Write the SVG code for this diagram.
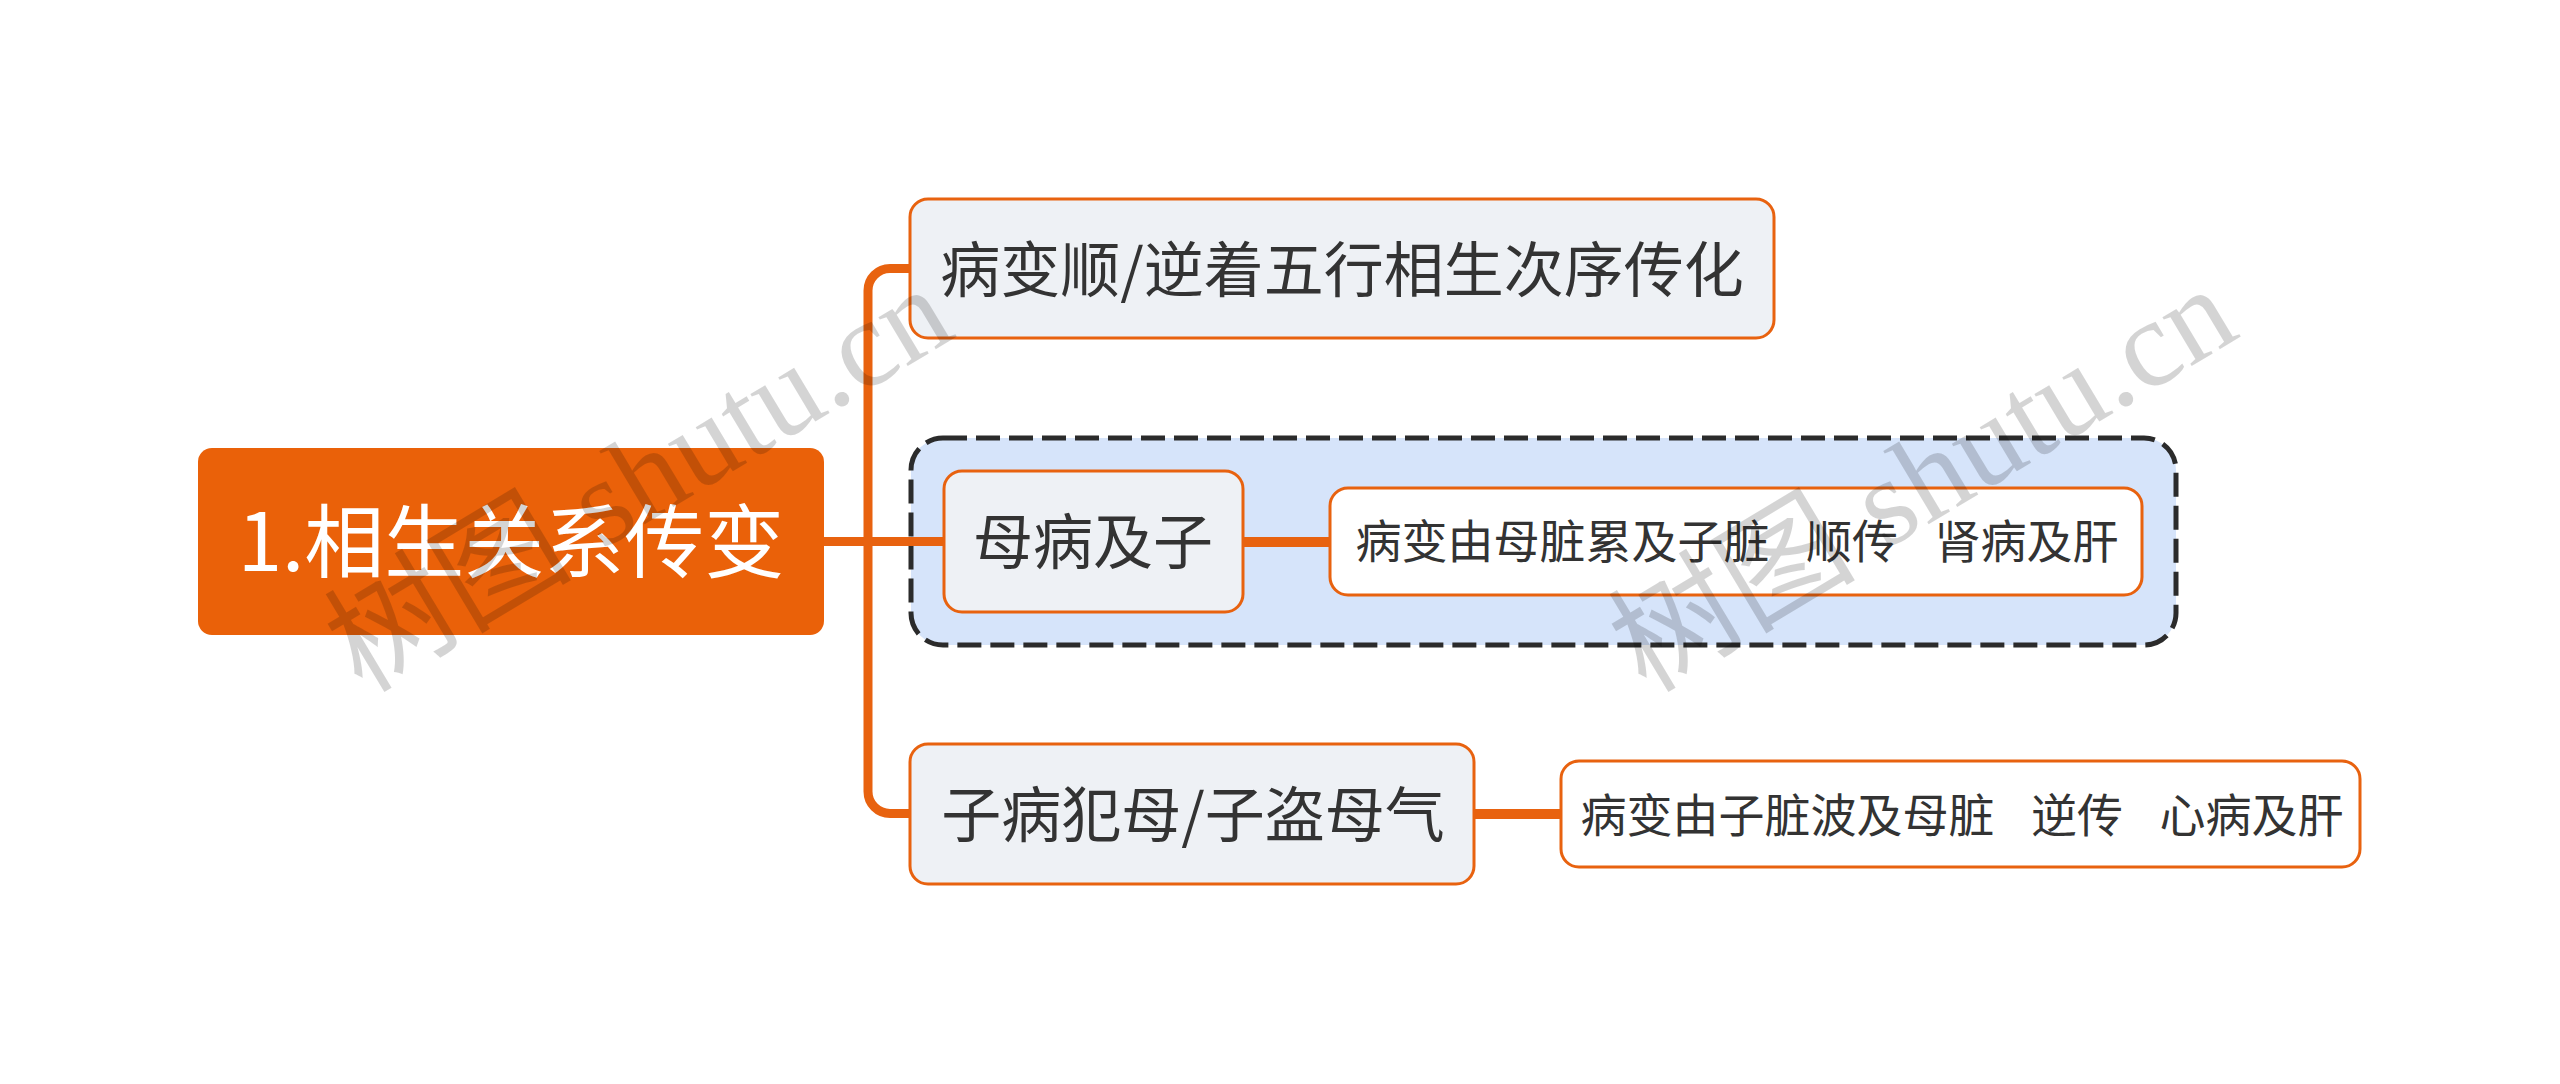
<svg xmlns="http://www.w3.org/2000/svg" width="2560" height="1084" viewBox="0 0 2560 1084">
<style>
.node{fill:#EEF1F5;stroke:#E8620F;stroke-width:3}
.leaf{fill:#FFFFFF;stroke:#E8620F;stroke-width:3}
.t{font-family:"Noto Sans CJK SC","Noto Sans",sans-serif;fill:#333333;text-anchor:middle;white-space:pre}
.conn{fill:none;stroke:#E8620F;stroke-linecap:butt}
.wm{font-family:"Liberation Serif","Noto Sans CJK SC",serif;font-size:124px;fill:#000;fill-opacity:0.17;white-space:pre}
</style>
<rect width="2560" height="1084" fill="#FFFFFF"/>
<g id="summary-box">
<rect x="911" y="438" width="1265" height="207" rx="32" fill="#D6E4FA" stroke="#2B2B2B" stroke-width="5" stroke-dasharray="24 9"/>
</g>
<g id="connectors">
<path class="conn" stroke-width="9" d="M 910 268.5 H 890 A 22 22 0 0 0 868 290.5 V 791.5 A 22 22 0 0 0 890 813.5 H 910"/>
<path class="conn" stroke-width="9" d="M 824 541.5 H 944"/>
<path class="conn" stroke-width="10" d="M 1243 542 H 1330"/>
<path class="conn" stroke-width="10" d="M 1474 814 H 1561"/>
</g>
<g id="root">
<rect x="198" y="448" width="626" height="187" rx="14" fill="#EA6109"/>
<text class="t" x="511" y="571" font-size="80" style="fill:#FFFFFF">1.相生关系传变</text>
</g>
<g id="n1">
<rect class="node" x="910" y="199" width="864" height="139" rx="18"/>
<text class="t" x="1342" y="292" font-size="60">病变顺/逆着五行相生次序传化</text>
</g>
<g id="n2">
<rect class="node" x="944" y="471" width="299" height="141" rx="18"/>
<text class="t" x="1093" y="564" font-size="60">母病及子</text>
</g>
<g id="n3">
<rect class="leaf" x="1330" y="488" width="812" height="107" rx="18"/>
<text class="t" x="1737" y="558" font-size="46" word-spacing="8">病变由母脏累及子脏  顺传  肾病及肝</text>
</g>
<g id="n4">
<rect class="node" x="910" y="744" width="564" height="140" rx="18"/>
<text class="t" x="1193" y="837" font-size="60">子病犯母/子盗母气</text>
</g>
<g id="n5">
<rect class="leaf" x="1561" y="761" width="799" height="106" rx="18"/>
<text class="t" x="1962" y="832" font-size="46" word-spacing="8">病变由子脏波及母脏  逆传  心病及肝</text>
</g>
<g id="watermarks">
<text class="wm" x="362" y="694" transform="rotate(-31 362 694)">树图 shutu.cn</text>
<text class="wm" x="1646" y="694" transform="rotate(-31 1646 694)">树图 shutu.cn</text>
</g>
</svg>
